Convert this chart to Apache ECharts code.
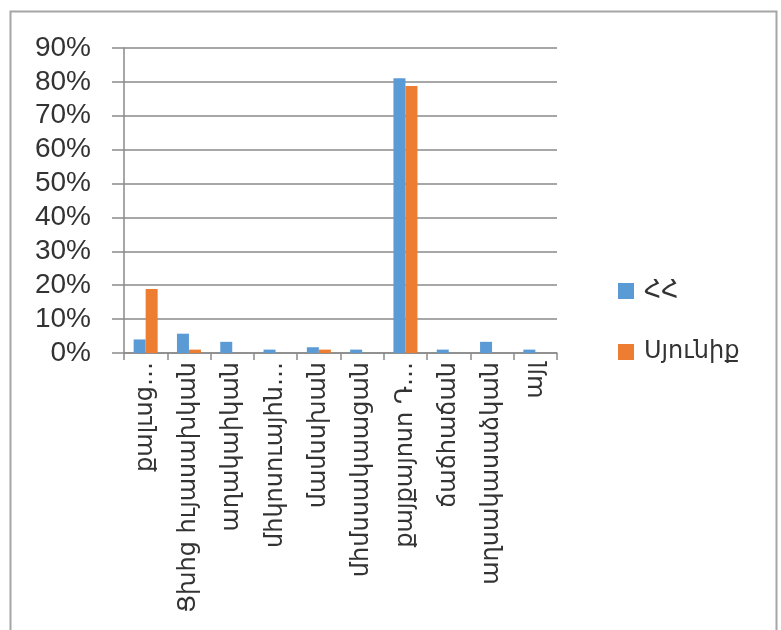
<!DOCTYPE html>
<html>
<head>
<meta charset="utf-8">
<script src="https://cdn.jsdelivr.net/npm/echarts@6/dist/echarts.min.js"></script>
<style>
html,body{margin:0;padding:0;background:#fff;}
#chart{width:781px;height:630px;}
</style>
</head>
<body>
<div id="chart"></div>
<script>
var categories = [
  "քալւսց…",
  "Ցխհց հւյասախկան",
  "աղակաիկան",
  "մհկոսուայհն…",
  "մամսսխան",
  "մհմսսակաացան",
  "քայքայոսո Դ…",
  "ճաճհաճան",
  "աղսակասաձկան",
  "այլ"
];
var seriesNames = ["ՀՀ", "Սյունիք"];
var valuesHH = [4.0, 5.7, 3.3, 1.0, 1.7, 1.0, 81.1, 1.0, 3.3, 1.0];
var valuesSyunik = [18.9, 1.0, 0, 0, 1.0, 0, 78.8, 0, 0, 0];
var yTicks = [0, 10, 20, 30, 40, 50, 60, 70, 80, 90];

var chart = echarts.init(document.getElementById('chart'));
var axisColor = '#8a8a8a';
chart.setOption({
  animation: false,
  backgroundColor: '#ffffff',
  graphic: [{
    type: 'rect',
    shape: {x: 10.5, y: 11.5, width: 766, height: 640},
    style: {fill: 'none', stroke: '#a6a6a6', lineWidth: 2},
    silent: true
  }],
  grid: {left: 124, right: 224, top: 48, bottom: 277, containLabel: false},
  legend: {
    orient: 'vertical',
    left: 613,
    top: 273,
    itemWidth: 16,
    itemHeight: 16,
    itemGap: 35,
    icon: 'rect',
    data: seriesNames,
    textStyle: {fontSize: 24, lineHeight: 26, color: '#333', fontFamily: 'DejaVu Sans', padding: [0, 0, 0, 5]}
  },
  xAxis: {
    type: 'category',
    data: categories,
    axisLine: {show: true, lineStyle: {color: axisColor, width: 1.5}},
    axisTick: {show: true, alignWithLabel: false, interval: 0, length: 7, lineStyle: {color: axisColor, width: 1.5}},
    axisLabel: {
      interval: 0,
      rotate: 90,
      margin: 9,
      fontSize: 24,
      color: '#333',
      fontFamily: 'DejaVu Sans'
    }
  },
  yAxis: {
    type: 'value',
    min: yTicks[0],
    max: yTicks[yTicks.length - 1],
    interval: 10,
    axisLine: {show: true, lineStyle: {color: axisColor, width: 1.5}},
    axisTick: {show: true, length: 12, lineStyle: {color: axisColor, width: 1.5}},
    splitLine: {show: true, lineStyle: {color: axisColor, width: 1.5}},
    axisLabel: {
      formatter: '{value}%',
      fontSize: 28,
      color: '#333',
      margin: 33,
      fontFamily: 'Liberation Sans'
    }
  },
  series: [
    {name: seriesNames[0], type: 'bar', data: valuesHH, barWidth: 12, barGap: '0%', itemStyle: {color: '#5B9BD5'}},
    {name: seriesNames[1], type: 'bar', data: valuesSyunik, barWidth: 12, barGap: '0%', itemStyle: {color: '#ED7D31'}}
  ]
});
</script>
</body>
</html>
